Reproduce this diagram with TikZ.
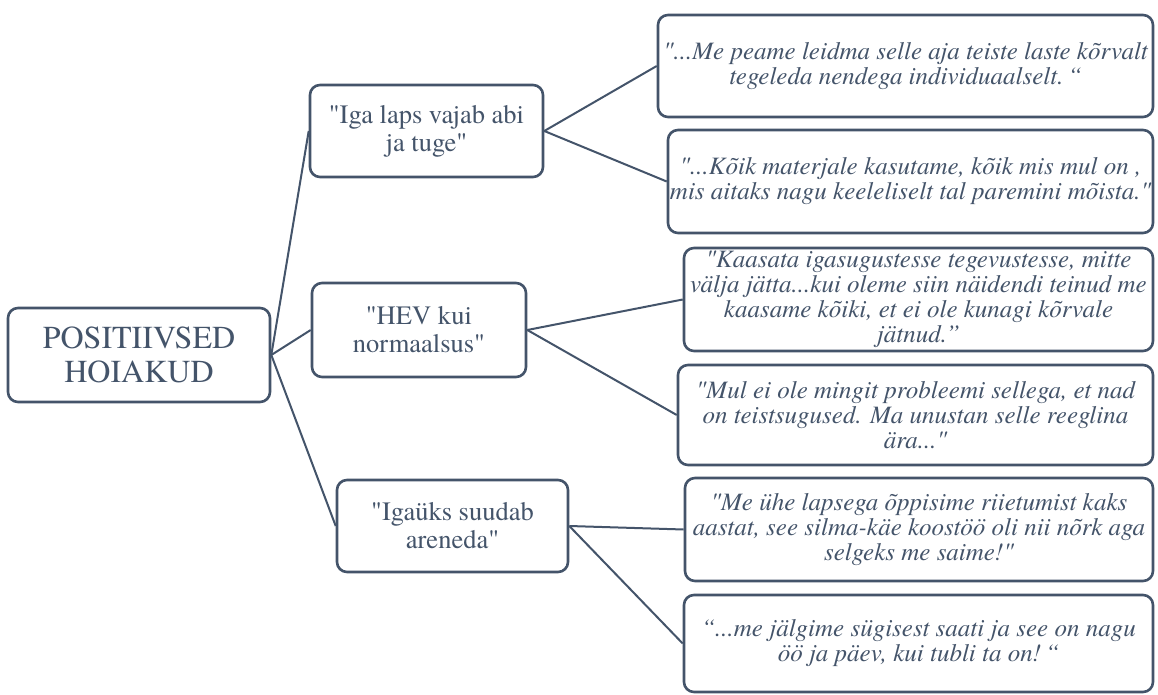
\documentclass[tikz,border=0pt]{standalone}
\usepackage{fontspec}
\newfontfamily\serifface{texgyretermes}[Extension=.otf, UprightFont=*-regular, ItalicFont=*-italic, BoldFont=*-bold]
\definecolor{slate}{HTML}{44546A}
\begin{document}
\begin{tikzpicture}[x=1pt,y=-1pt,
  box/.style={draw=slate, line width=2.6pt, rounded corners=10pt, fill=white,
    text=slate, inner sep=0pt, align=center},
  rootbox/.style={box, font={\serifface\fontsize{32pt}{34pt}\selectfont}},
  midbox/.style={box, font={\serifface\fontsize{26.5pt}{28pt}\selectfont}},
  quotebox/.style={box, font={\serifface\fontsize{25pt}{25pt}\selectfont\itshape}},
  link/.style={draw=slate, line width=2pt}]
\useasboundingbox[fill=white] (0,0) rectangle (1158,695);

\node[rootbox, minimum width=262pt, minimum height=94pt] (root) at (139,355) {POSITIIVSED\\HOIAKUD};

\node[midbox, minimum width=233pt, minimum height=92pt] (m1) at (426.5,131) {"Iga laps vajab abi\\ja tuge"};
\node[midbox, minimum width=214pt, minimum height=94pt] (m2) at (419,330) {"HEV kui\\normaalsus"};
\node[midbox, minimum width=231pt, minimum height=92pt] (m3) at (452.5,526) {"Igaüks suudab\\areneda"};

\node[quotebox, minimum width=495pt, minimum height=102pt] (q1) at (905.5,66)
  {"...Me peame leidma selle aja teiste laste kõrvalt\\tegeleda nendega individuaalselt.\,“};
\node[quotebox, minimum width=485pt, minimum height=103pt] (q2) at (910.5,181.5)
  {"...Kõik materjale kasutame, kõik mis mul on ,\\mis aitaks nagu keeleliselt tal paremini mõista."};
\node[quotebox, minimum width=469pt, minimum height=103pt] (q3) at (918.5,299.5)
  {"Kaasata igasugustesse tegevustesse, mitte\\välja jätta...kui oleme siin näidendi teinud me\\kaasame kõiki, et ei ole kunagi kõrvale\\jätnud.”};
\node[quotebox, minimum width=475pt, minimum height=100pt] (q4) at (915.5,415)
  {"Mul ei ole mingit probleemi sellega, et nad\\on teistsugused. Ma unustan selle reeglina\\ära..."};
\node[quotebox, minimum width=468pt, minimum height=103pt] (q5) at (919,529.5)
  {"Me ühe lapsega õppisime riietumist kaks\\aastat, see silma-käe koostöö oli nii nõrk aga\\selgeks me saime!"};
\node[quotebox, minimum width=469pt, minimum height=97pt] (q6) at (918.5,643.5)
  {“...me jälgime sügisest saati ja see on nagu\\öö ja päev, kui tubli ta on!\,“};

\path[link] (root.east) -- (m1.west);
\path[link] (root.east) -- (m2.west);
\path[link] (root.east) -- (m3.west);
\path[link] (m1.east) -- (q1.west);
\path[link] (m1.east) -- (q2.west);
\path[link] (m2.east) -- (q3.west);
\path[link] (m2.east) -- (q4.west);
\path[link] (m3.east) -- (q5.west);
\path[link] (m3.east) -- (q6.west);
\end{tikzpicture}
\end{document}
